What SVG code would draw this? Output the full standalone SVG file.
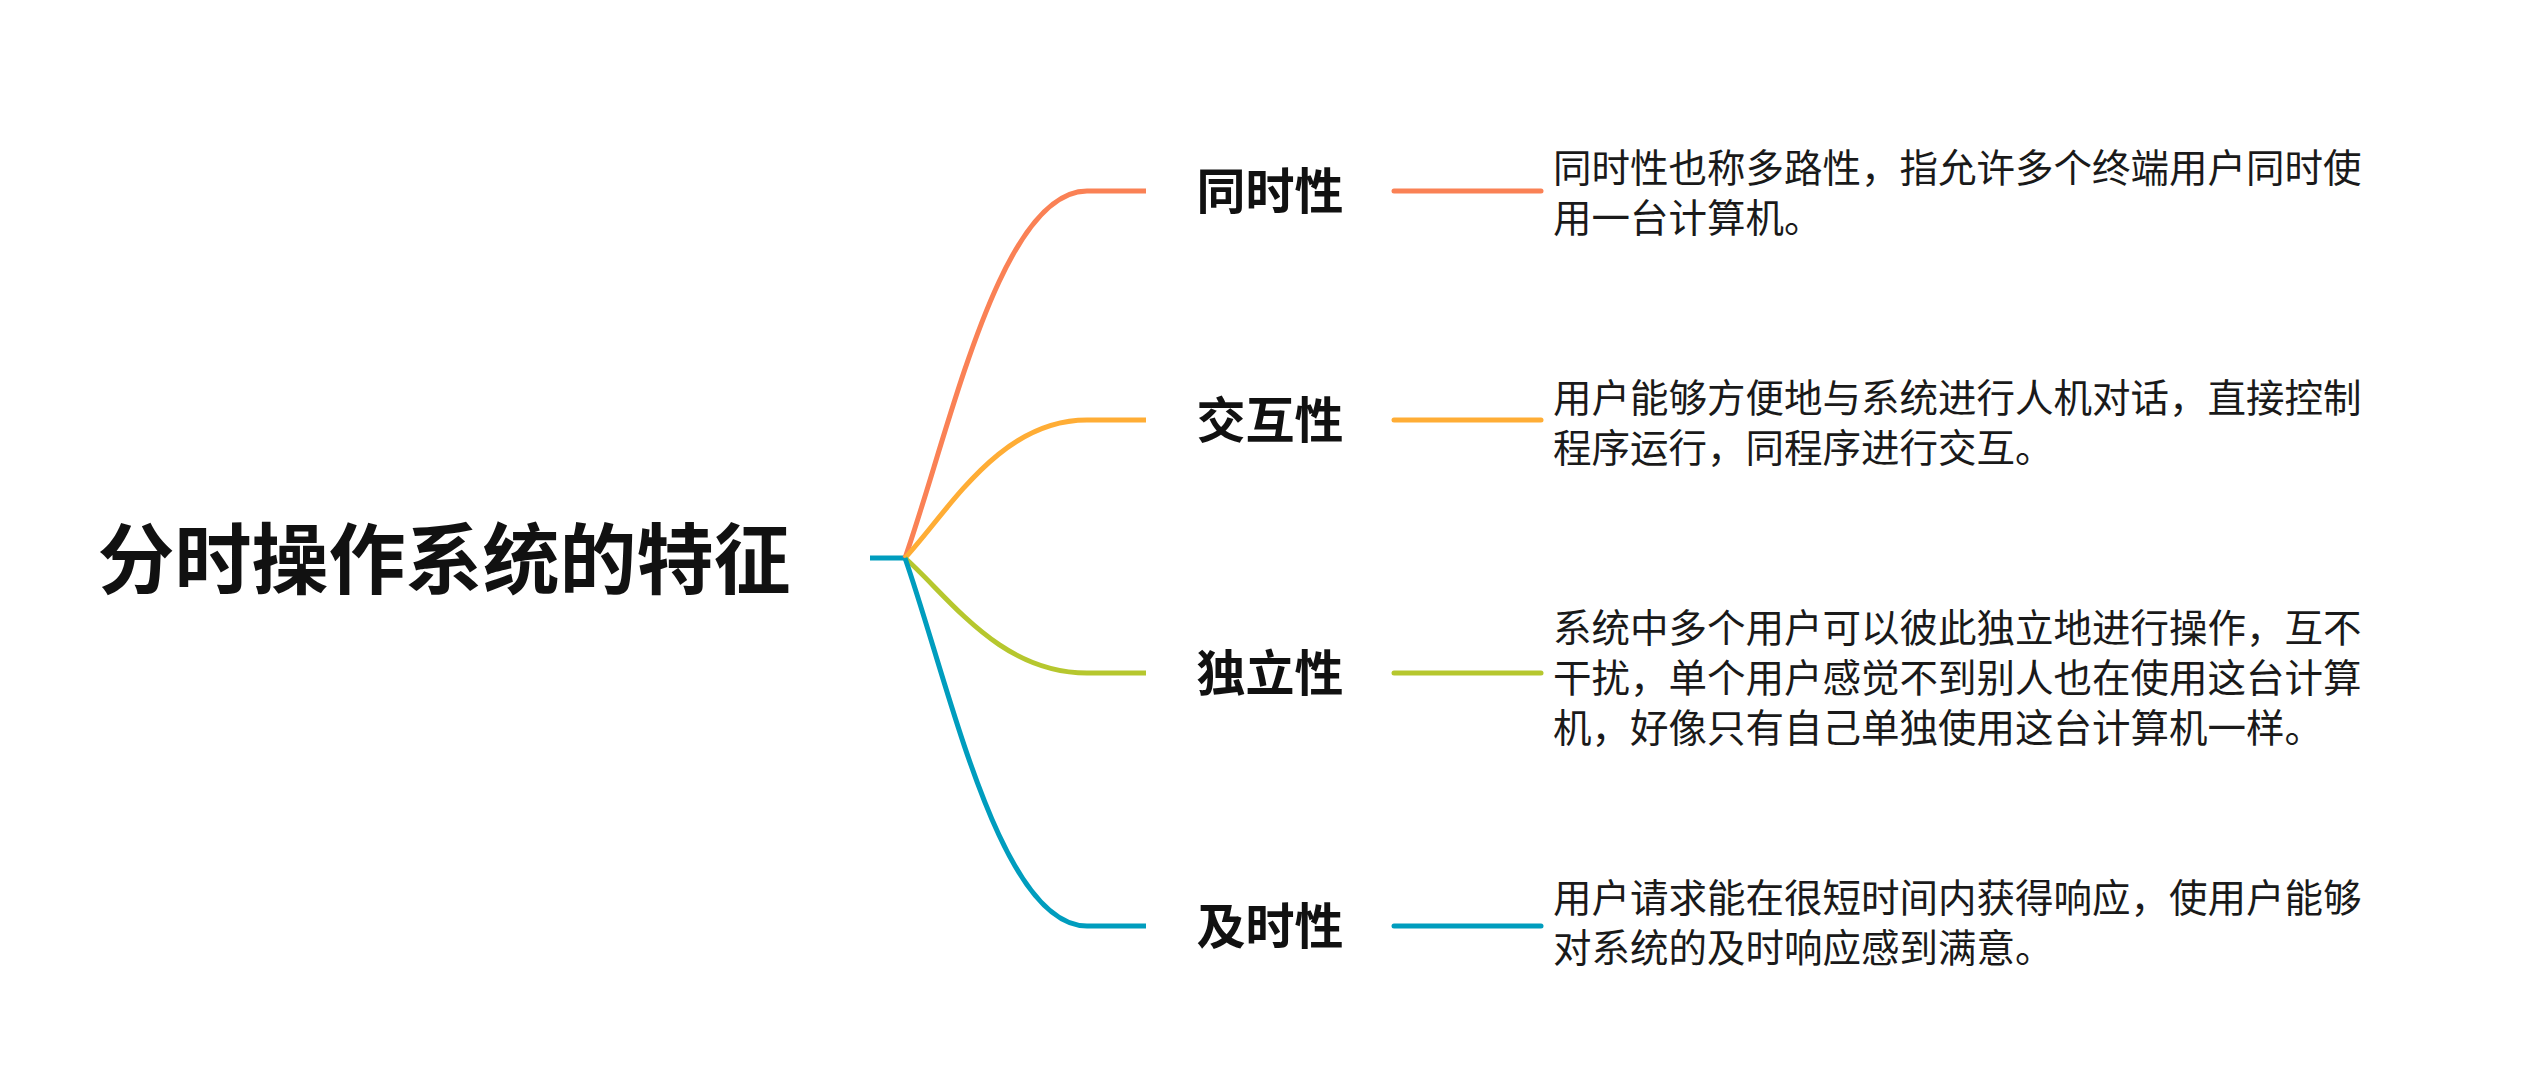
<svg xmlns="http://www.w3.org/2000/svg" width="2534" height="1080" viewBox="0 0 2534 1080">
<style>
.root{font-family:"Noto Sans CJK SC","Noto Sans",sans-serif;font-weight:700;font-size:77px;fill:#111;}
.lbl{font-family:"Noto Sans CJK SC","Noto Sans",sans-serif;font-weight:700;font-size:49px;fill:#111;}
.desc{font-family:"Noto Sans CJK SC","Noto Sans",sans-serif;font-weight:400;font-size:38.5px;fill:#1a1a1a;}
.ln{fill:none;stroke-width:5;}
.o{stroke:#FA8155;}
.y{stroke:#FFAD35;}
.g{stroke:#B6C72E;}
.b{stroke:#009DBE;}
</style>
<rect width="2534" height="1080" fill="#fff"/>
<g id="connectors">
<line class="ln b" x1="870" y1="558" x2="906" y2="558"/>
<path class="ln o" d="M905 558 C950 430 1000 191 1087 191 L1146 191"/>
<path class="ln y" d="M905 558 C950 509 1000 420 1087 420 L1146 420"/>
<path class="ln g" d="M905 558 C950 598 1000 673 1087 673 L1146 673"/>
<path class="ln b" d="M905 558 C950 687 1000 926 1087 926 L1146 926"/>
<line class="ln o" x1="1394" y1="191" x2="1541" y2="191" stroke-linecap="round"/>
<line class="ln y" x1="1394" y1="420" x2="1541" y2="420" stroke-linecap="round"/>
<line class="ln g" x1="1394" y1="673" x2="1541" y2="673" stroke-linecap="round"/>
<line class="ln b" x1="1394" y1="926" x2="1541" y2="926" stroke-linecap="round"/>
</g>
<g id="root"><text class="root" x="444" y="554" text-anchor="middle" dominant-baseline="central">分时操作系统的特征</text></g>
<g id="n1"><text class="lbl" x="1270" y="187" text-anchor="middle" dominant-baseline="central">同时性</text></g>
<g id="n2"><text class="lbl" x="1270" y="416" text-anchor="middle" dominant-baseline="central">交互性</text></g>
<g id="n3"><text class="lbl" x="1270" y="669" text-anchor="middle" dominant-baseline="central">独立性</text></g>
<g id="n4"><text class="lbl" x="1270" y="922" text-anchor="middle" dominant-baseline="central">及时性</text></g>
<g id="d1"><text class="desc" dominant-baseline="central"><tspan x="1553" y="165">同时性也称多路性，指允许多个终端用户同时使</tspan><tspan x="1553" y="215">用一台计算机。</tspan></text></g>
<g id="d2"><text class="desc" dominant-baseline="central"><tspan x="1553" y="395">用户能够方便地与系统进行人机对话，直接控制</tspan><tspan x="1553" y="445">程序运行，同程序进行交互。</tspan></text></g>
<g id="d3"><text class="desc" dominant-baseline="central"><tspan x="1553" y="625">系统中多个用户可以彼此独立地进行操作，互不</tspan><tspan x="1553" y="675">干扰，单个用户感觉不到别人也在使用这台计算</tspan><tspan x="1553" y="725">机，好像只有自己单独使用这台计算机一样。</tspan></text></g>
<g id="d4"><text class="desc" dominant-baseline="central"><tspan x="1553" y="895">用户请求能在很短时间内获得响应，使用户能够</tspan><tspan x="1553" y="945">对系统的及时响应感到满意。</tspan></text></g>
</svg>
